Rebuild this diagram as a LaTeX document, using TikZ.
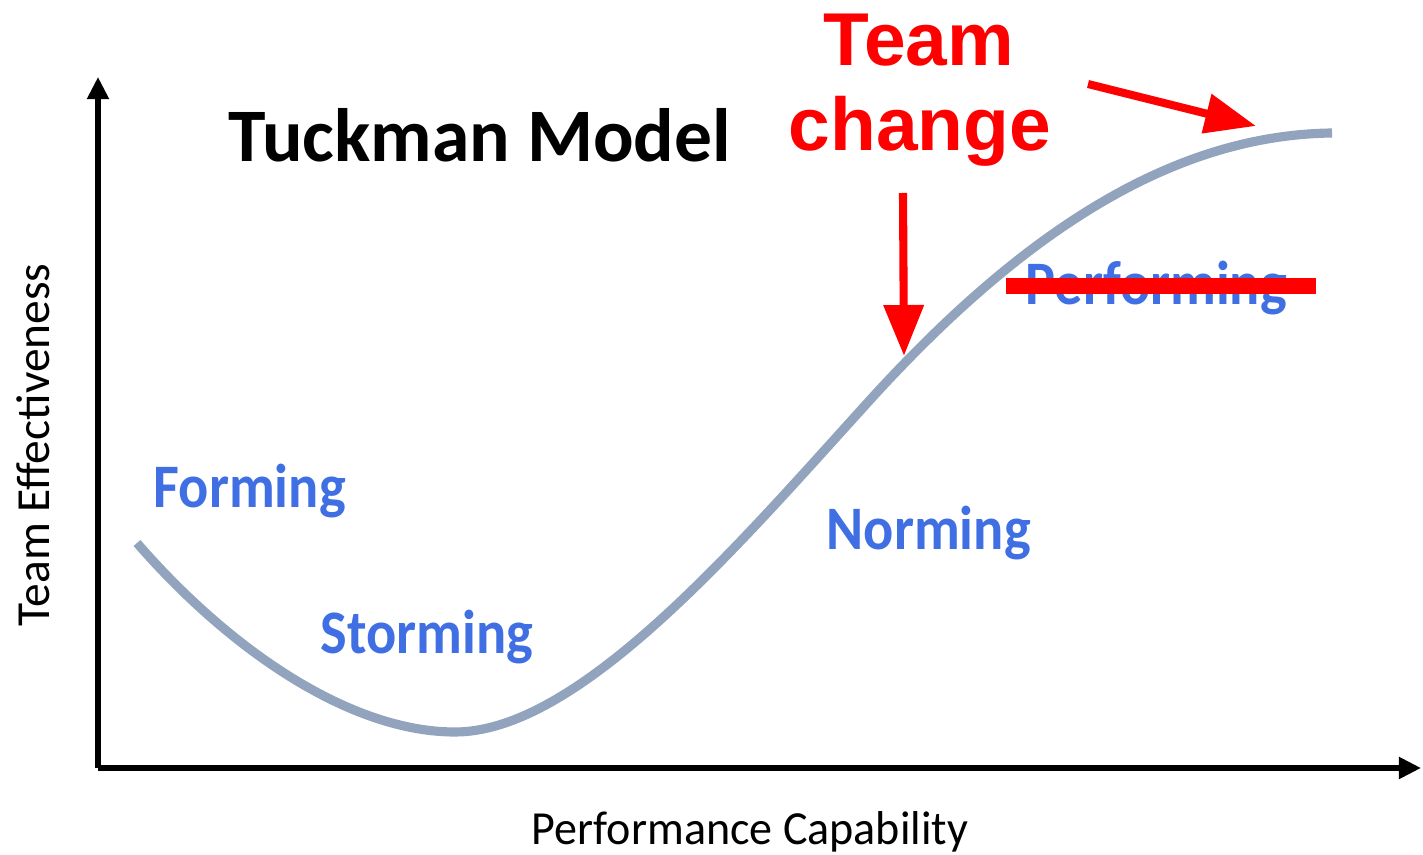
\documentclass[tikz,border=0pt]{standalone}
\usepackage{fontspec}
\usepackage{graphicx}
\usetikzlibrary{arrows.meta}
\newfontfamily\calfont{Carlito}
\newfontfamily\arfont{Liberation Sans}
\definecolor{stageblue}{HTML}{3F6FE2}
\definecolor{curvegray}{HTML}{91A3BD}
\definecolor{markred}{HTML}{FF0000}
\newcommand{\narrow}[1]{\scalebox{0.91}[1]{#1}}
\begin{document}
\begin{tikzpicture}[x=0.01cm,y=-0.01cm,
  axis/.style={line width=1.45pt,-{Triangle[length=6.3pt,width=6pt]}},
  stage/.style={anchor=base west,inner sep=0pt,text=stageblue,font=\calfont\bfseries\fontsize{17.6pt}{20pt}\selectfont},
  axlabel/.style={inner sep=0pt,font=\calfont\fontsize{13.5pt}{16pt}\selectfont},
  redtitle/.style={anchor=base,inner sep=0pt,text=markred,font=\arfont\bfseries\fontsize{21.3pt}{24pt}\selectfont},
  redarrow/.style={draw=markred,line width=2.3pt,-{Triangle[length=14.5pt,width=11pt]}}]
\useasboundingbox (0,0) rectangle (1423,855);
% axes
\coordinate (origin) at (98,768);
\coordinate (ytip) at (98,77);
\coordinate (xtip) at (1421,768);
\draw[axis] (origin) -- (ytip);
\draw[axis] (origin) -- (xtip);
% stage curve
\draw[curvegray,line width=2.6pt]
  (137,543) .. controls (230,650) and (350,732) .. (455,732)
            .. controls (580,732) and (740,543) .. (870,400)
            .. controls (1020,235) and (1170,135) .. (1332,133);
% titles
\node[anchor=base west,inner sep=0pt,font=\calfont\bfseries\fontsize{21.5pt}{24pt}\selectfont] (title) at (228,162) {Tuckman Model};
\node[stage] (forming) at (153,508) {\narrow{Forming}};
\node[stage] (storming) at (320,654) {\narrow{Storming}};
\node[stage] (norming) at (826,550) {\narrow{Norming}};
\node[stage] (performing) at (1025,305) {\narrow{Performing}};
% strike-out
\coordinate (s1) at (1006,286);
\coordinate (s2) at (1316,286);
\draw[markred,line width=4.5pt] (s1) -- (s2);
% axis labels
\node[axlabel,anchor=base] (xlab) at (750,845) {\scalebox{0.97}[1]{Performance Capability}};
\node[axlabel,anchor=base,rotate=90] (ylab) at (50,445) {Team Effectiveness};
% team change
\node[redtitle] (team) at (919,66) {Team};
\node[redtitle] (change) at (920,151) {change};
\coordinate (a1) at (903,193);
\coordinate (a1t) at (904,356);
\coordinate (a2) at (1088,84);
\coordinate (a2t) at (1256,126);
\draw[redarrow] (a1) -- (a1t);
\draw[redarrow] (a2) -- (a2t);
\end{tikzpicture}
\end{document}
